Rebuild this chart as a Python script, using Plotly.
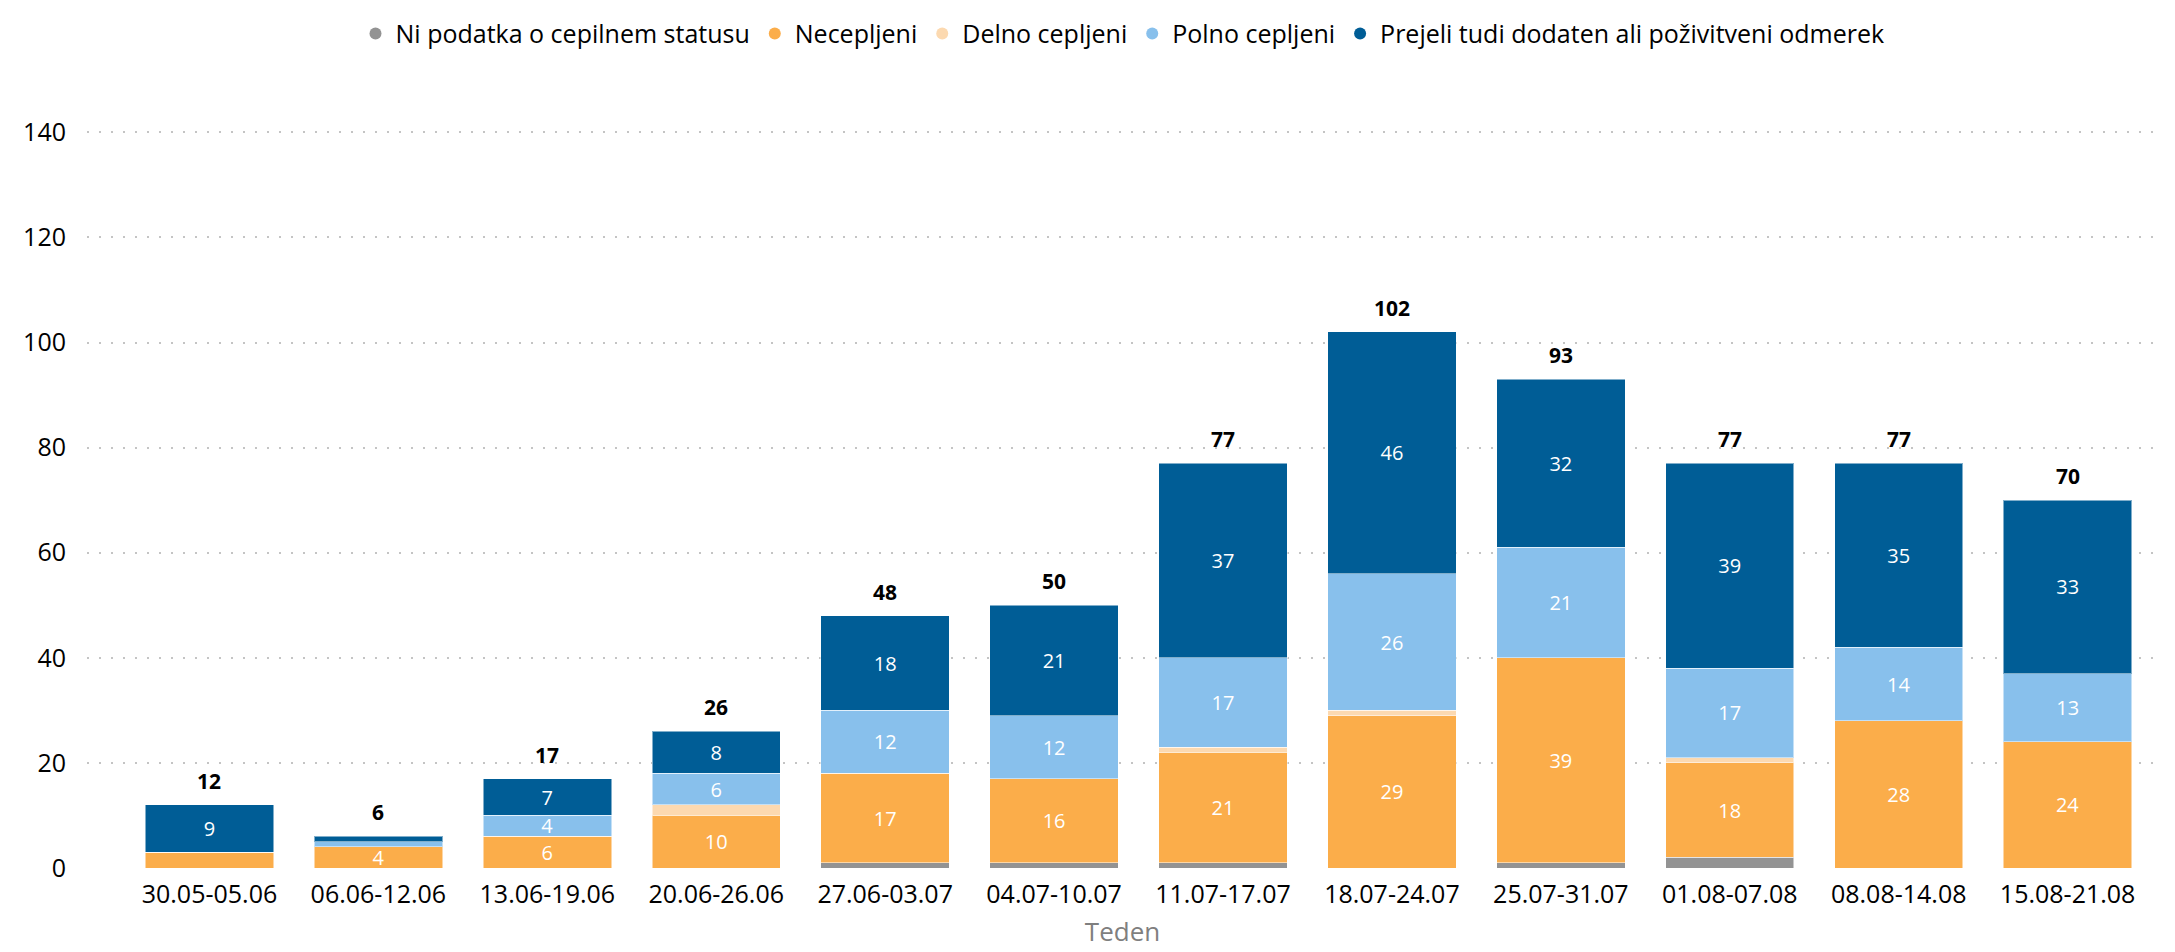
import plotly.graph_objects as go

weeks = ["30.05-05.06", "06.06-12.06", "13.06-19.06", "20.06-26.06", "27.06-03.07",
         "04.07-10.07", "11.07-17.07", "18.07-24.07", "25.07-31.07", "01.08-07.08",
         "08.08-14.08", "15.08-21.08"]
ni_podatka = [0, 0, 0, 0, 1, 1, 1, 0, 1, 2, 0, 0]
necepljeni = [3, 4, 6, 10, 17, 16, 21, 29, 39, 18, 28, 24]
delno = [0, 0, 0, 2, 0, 0, 1, 1, 0, 1, 0, 0]
polno = [0, 1, 4, 6, 12, 12, 17, 26, 21, 17, 14, 13]
dodaten = [9, 1, 7, 8, 18, 21, 37, 46, 32, 39, 35, 33]
totals = [12, 6, 17, 26, 48, 50, 77, 102, 93, 77, 77, 70]

series = [
    ("Ni podatka o cepilnem statusu", ni_podatka, "#939393"),
    ("Necepljeni", necepljeni, "#FBAD4A"),
    ("Delno cepljeni", delno, "#FCD9B0"),
    ("Polno cepljeni", polno, "#88C0EC"),
    ("Prejeli tudi dodaten ali poživitveni odmerek", dodaten, "#005D96"),
]

FONT = "Open Sans"

fig = go.Figure()
for name, vals, color in series:
    fig.add_trace(go.Bar(
        x=weeks, y=vals, name=name, marker_color=color,
        marker_line=dict(color="rgba(255,255,255,0.5)", width=1),
        text=[str(v) if v >= 4 else "" for v in vals],
        textposition="inside", insidetextanchor="middle", textangle=0,
        constraintext="none",
        textfont=dict(color="white", size=20, family=FONT),
        showlegend=False, hoverinfo="skip",
    ))
    fig.add_trace(go.Scatter(
        x=[None], y=[None], mode="markers", name=name,
        marker=dict(color=color, size=24, symbol="circle"),
    ))

for w, t in zip(weeks, totals):
    fig.add_annotation(x=w, y=t, text=f"<b>{t}</b>", showarrow=False,
                       yanchor="bottom", yshift=8,
                       font=dict(size=21, color="black", family=FONT))

fig.update_layout(
    barmode="stack", bargap=0.24,
    width=2175, height=952,
    paper_bgcolor="white", plot_bgcolor="white",
    margin=dict(l=79, r=25, t=118, b=92),
    font=dict(family=FONT, size=24, color="black"),
    uniformtext=dict(mode="show", minsize=10),
    legend=dict(orientation="h", x=0.5, xanchor="center", y=0.997, yanchor="top",
                yref="container", font=dict(size=25), itemsizing="constant",
                traceorder="normal", itemwidth=30, tracegroupgap=0),
    xaxis=dict(range=[-0.725, 11.535], showgrid=False, showline=False, ticks="",
               tickfont=dict(size=25), ticklabelstandoff=9,
               title=dict(text="Teden", font=dict(size=26, color="#7f7f7f"), standoff=13)),
    yaxis=dict(range=[0, 141.2], tickvals=[0, 20, 40, 60, 80, 100, 120, 140],
               showgrid=True, gridcolor="#c4c4c4", griddash="2px,10px",
               gridwidth=2, zeroline=False, showline=False, tickfont=dict(size=25),
               ticklabelstandoff=20),
)
fig.write_html("out.html")
